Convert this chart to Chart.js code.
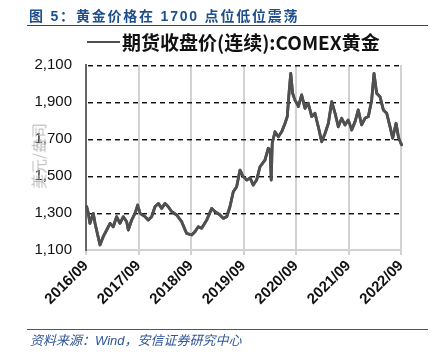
<!DOCTYPE html>
<html>
<head>
<meta charset="utf-8">
<script src="https://cdn.jsdelivr.net/npm/chart.js@4/dist/chart.umd.min.js"></script>
<style>
  html, body { margin:0; padding:0; background:#fff; }
  #wrap { position:relative; width:444px; height:358px; overflow:hidden; font-family:"Liberation Sans","Noto Sans CJK SC",sans-serif; }
  #c { position:absolute; left:0; top:0; }
  .abs { position:absolute; white-space:nowrap; }
  #title { left:29px; top:6px; font-family:"Liberation Sans","Noto Sans CJK SC",sans-serif; font-weight:bold; font-size:14px; letter-spacing:1.8px; color:#1F4E8C; line-height:20px; }
  #rule1 { left:27px; top:25px; width:401px; height:0; border-top:1.5px solid #444; }
  #legline { left:87px; top:41px; width:33px; height:0; border-top:2.5px solid #505050; }
  #legtext { left:122px; top:30px; font-family:"Noto Sans CJK SC",sans-serif; font-weight:bold; font-size:19px; line-height:24px; color:#111; }
  #ytitle { left:38px; top:156px; transform:translate(-50%,-50%) rotate(-90deg); font-family:"Noto Sans CJK SC",sans-serif; font-size:15px; color:#bdbdbd; }
  #rule2 { left:27px; top:329px; width:401px; height:0; border-top:1.5px solid #555; }
  #source { left:30px; top:332px; font-family:"Liberation Sans","Noto Sans CJK SC",sans-serif; font-style:italic; font-size:13px; line-height:18px; color:#2F5597; }
</style>
</head>
<body>
<div id="wrap">
  <canvas id="c" width="444" height="358"></canvas>
  <div class="abs" id="title">图 5：黄金价格在 1700 点位低位震荡</div>
  <div class="abs" id="rule1"></div>
  <div class="abs" id="legline"></div>
  <div class="abs" id="legtext">期货收盘价(连续):COMEX黄金</div>
  <div class="abs" id="ytitle">美元/盎司</div>
  <div class="abs" id="rule2"></div>
  <div class="abs" id="source">资料来源：Wind，安信证券研究中心</div>
</div>
<script>
// ---- data ----
const dates = [
  "2016/09/06","2016/09/17","2016/09/28","2016/10/21","2016/11/03","2016/12/07",
  "2016/12/29","2017/01/23","2017/02/16","2017/03/08","2017/04/01","2017/04/24",
  "2017/05/17","2017/06/10","2017/06/21","2017/07/14","2017/08/07","2017/08/26",
  "2017/09/11","2017/10/16","2017/11/08","2017/12/01","2017/12/24","2018/01/17",
  "2018/02/10","2018/03/03","2018/03/25","2018/04/19","2018/05/23","2018/06/27",
  "2018/08/01","2018/09/06","2018/09/28","2018/10/21","2018/11/14","2018/12/19",
  "2019/01/23","2019/02/16","2019/03/20","2019/04/12","2019/05/06","2019/05/28",
  "2019/06/21","2019/07/14","2019/08/07","2019/08/30","2019/09/23","2019/10/16",
  "2019/11/08","2019/12/01","2019/12/24","2020/01/28","2020/02/21","2020/03/04",
  "2020/03/11","2020/03/18","2020/04/07","2020/04/30","2020/05/23","2020/06/16",
  "2020/07/01","2020/07/15","2020/07/25","2020/08/08","2020/08/24","2020/09/17",
  "2020/10/10","2020/11/03","2020/11/25","2020/12/19","2021/01/11","2021/02/04",
  "2021/02/27","2021/03/20","2021/04/13","2021/05/06","2021/05/29","2021/06/21",
  "2021/07/14","2021/08/07","2021/08/29","2021/09/23","2021/10/16","2021/11/08",
  "2021/12/01","2021/12/24","2022/01/17","2022/02/10","2022/02/26","2022/03/14",
  "2022/04/07","2022/04/30","2022/05/23","2022/06/16","2022/07/04","2022/07/27",
  "2022/08/13","2022/09/05"
];
const prices = [
  1334,1298,1244,1298,1244,1127,1172,1208,1244,1226,1280,1244,
  1280,1253,1208,1262,1298,1343,1298,1280,1262,1280,1334,1352,
  1325,1352,1334,1307,1289,1253,1190,1181,1199,1226,1217,1262,
  1325,1307,1289,1271,1280,1334,1415,1442,1532,1496,1478,1490,
  1451,1478,1550,1586,1650,1640,1478,1677,1739,1712,1739,1785,
  1821,1965,2055,1947,1911,1875,1938,1866,1893,1821,1839,1766,
  1685,1730,1785,1902,1839,1766,1812,1776,1803,1749,1794,1857,
  1776,1812,1821,1911,2055,1947,1929,1857,1839,1766,1704,1785,
  1712,1668
];
const seriesName = "期货收盘价(连续):COMEX黄金";
const xTickLabels = ["2016/09","2017/09","2018/09","2019/09","2020/09","2021/09","2022/09"];
const yTickLabels = ["1,100","1,300","1,500","1,700","1,900","2,100"];

// ---- helpers ----
const START_Y = 2016, START_M = 9;
function monthIndex(s) {
  const [y, m, d] = s.split("/").map(Number);
  return (y - START_Y) * 12 + (m - START_M) + (d - 1) / 30;
}
const points = dates.map((d, i) => ({ x: monthIndex(d), y: prices[i] }));
const num = (s) => Number(s.replace(/,/g, ""));
const yMin = num(yTickLabels[0]);
const yMax = num(yTickLabels[yTickLabels.length - 1]);
const yStep = num(yTickLabels[1]) - yMin;

// grid lines at the library's tick positions, then the series line again on top
const refGrid = {
  id: "refGrid",
  afterDraw(chart) {
    const { ctx, chartArea: a } = chart;
    const sx = chart.scales.x, sy = chart.scales.y;
    ctx.save();
    ctx.setLineDash([]);
    ctx.strokeStyle = "#d2d2d2";
    ctx.lineWidth = 2;
    sx.ticks.forEach((t) => {
      const px = Math.round(sx.getPixelForValue(t.value));
      ctx.beginPath();
      ctx.moveTo(px, t.value === sx.min ? a.bottom + 1 : a.top);
      ctx.lineTo(px, a.bottom + 5);
      ctx.stroke();
    });
    // dashed horizontal lines, dashes as short solid segments (5 on, 4 off)
    ctx.strokeStyle = "#111";
    ctx.lineWidth = 1;
    sy.ticks.forEach((t) => {
      if (t.value === sy.min) return;
      const py = Math.round(sy.getPixelForValue(t.value)) + 0.5;
      ctx.beginPath();
      for (let x0 = a.left + 2; x0 < a.right; x0 += 9) {
        ctx.moveTo(x0, py);
        ctx.lineTo(Math.min(x0 + 5, a.right), py);
      }
      ctx.stroke();
      ctx.beginPath();
      for (let x0 = a.left + 2; x0 < a.right; x0 += 9) {
        ctx.moveTo(x0, py + 1);
        ctx.lineTo(Math.min(x0 + 5, a.right), py + 1);
      }
      ctx.globalAlpha = 0.45;
      ctx.stroke();
      ctx.globalAlpha = 1;
    });
    ctx.restore();
    const meta = chart.getDatasetMeta(0);
    if (meta && meta.dataset) {
      ctx.save();
      meta.dataset.draw(ctx, a);
      ctx.restore();
    }
  }
};

new Chart(document.getElementById("c"), {
  type: "line",
  data: {
    datasets: [{
      label: seriesName,
      data: points,
      borderColor: "#505050",
      borderWidth: 2.8,
      borderJoinStyle: "round",
      borderCapStyle: "round",
      pointRadius: 0,
      tension: 0,
      clip: false
    }]
  },
  plugins: [refGrid],
  options: {
    responsive: false,
    animation: false,
    layout: { padding: { left: 0, right: 43, top: 65, bottom: 38 } },
    plugins: { legend: { display: false }, tooltip: { enabled: false } },
    scales: {
      x: {
        type: "linear",
        min: 0,
        max: (xTickLabels.length - 1) * 12,
        afterFit: (s) => { s.height = 70; },
        ticks: {
          stepSize: 12,
          autoSkip: false,
          maxRotation: 45, minRotation: 45,
          padding: 2,
          color: "#111",
          font: { family: "Liberation Sans", size: 15, weight: "bold" },
          callback: (v) => xTickLabels[Math.round(v / 12)]
        },
        grid: { display: false, drawTicks: true, tickLength: 5 },
        border: { display: true, color: "#d2d2d2", width: 2 }
      },
      y: {
        type: "linear",
        min: yMin, max: yMax,
        afterFit: (s) => { s.width = 86; },
        ticks: {
          stepSize: yStep,
          padding: 14,
          color: "#111",
          font: { family: "Liberation Sans", size: 15 },
          callback: (v) => yTickLabels[Math.round((v - yMin) / yStep)]
        },
        grid: { display: false, drawTicks: false },
        border: { display: true, color: "#666", width: 2 }
      }
    }
  }
});
</script>
</body>
</html>
